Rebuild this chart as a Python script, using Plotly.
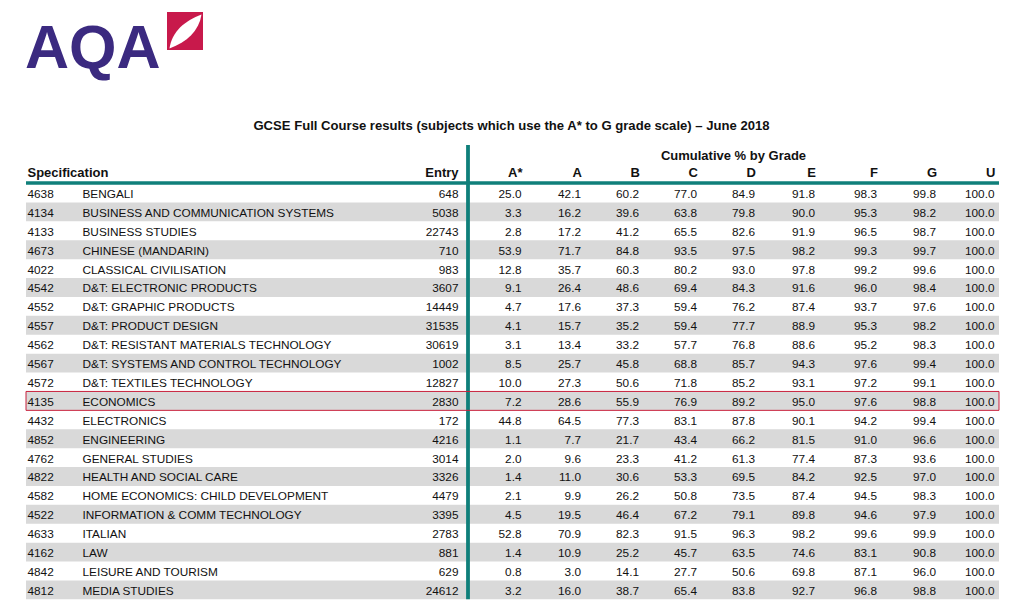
import plotly.graph_objects as go

# ---------------- data ----------------
codes = ["4638", "4134", "4133", "4673", "4022", "4542", "4552", "4557", "4562", "4567", "4572",
         "4135", "4432", "4852", "4762", "4822", "4582", "4522", "4633", "4162", "4842", "4812"]
subjects = ["BENGALI", "BUSINESS AND COMMUNICATION SYSTEMS", "BUSINESS STUDIES", "CHINESE (MANDARIN)",
            "CLASSICAL CIVILISATION", "D&T: ELECTRONIC PRODUCTS", "D&T: GRAPHIC PRODUCTS",
            "D&T: PRODUCT DESIGN", "D&T: RESISTANT MATERIALS TECHNOLOGY",
            "D&T: SYSTEMS AND CONTROL TECHNOLOGY", "D&T: TEXTILES TECHNOLOGY", "ECONOMICS",
            "ELECTRONICS", "ENGINEERING", "GENERAL STUDIES", "HEALTH AND SOCIAL CARE",
            "HOME ECONOMICS: CHILD DEVELOPMENT", "INFORMATION & COMM TECHNOLOGY", "ITALIAN", "LAW",
            "LEISURE AND TOURISM", "MEDIA STUDIES"]
entries = [648, 5038, 22743, 710, 983, 3607, 14449, 31535, 30619, 1002, 12827,
           2830, 172, 4216, 3014, 3326, 4479, 3395, 2783, 881, 629, 24612]
grade_labels = ["A*", "A", "B", "C", "D", "E", "F", "G", "U"]
a_star = [25.0, 3.3, 2.8, 53.9, 12.8, 9.1, 4.7, 4.1, 3.1, 8.5, 10.0, 7.2, 44.8, 1.1, 2.0, 1.4, 2.1, 4.5, 52.8, 1.4, 0.8, 3.2]
grade_a = [42.1, 16.2, 17.2, 71.7, 35.7, 26.4, 17.6, 15.7, 13.4, 25.7, 27.3, 28.6, 64.5, 7.7, 9.6, 11.0, 9.9, 19.5, 70.9, 10.9, 3.0, 16.0]
grade_b = [60.2, 39.6, 41.2, 84.8, 60.3, 48.6, 37.3, 35.2, 33.2, 45.8, 50.6, 55.9, 77.3, 21.7, 23.3, 30.6, 26.2, 46.4, 82.3, 25.2, 14.1, 38.7]
grade_c = [77.0, 63.8, 65.5, 93.5, 80.2, 69.4, 59.4, 59.4, 57.7, 68.8, 71.8, 76.9, 83.1, 43.4, 41.2, 53.3, 50.8, 67.2, 91.5, 45.7, 27.7, 65.4]
grade_d = [84.9, 79.8, 82.6, 97.5, 93.0, 84.3, 76.2, 77.7, 76.8, 85.7, 85.2, 89.2, 87.8, 66.2, 61.3, 69.5, 73.5, 79.1, 96.3, 63.5, 50.6, 83.8]
grade_e = [91.8, 90.0, 91.9, 98.2, 97.8, 91.6, 87.4, 88.9, 88.6, 94.3, 93.1, 95.0, 90.1, 81.5, 77.4, 84.2, 87.4, 89.8, 98.2, 74.6, 69.8, 92.7]
grade_f = [98.3, 95.3, 96.5, 99.3, 99.2, 96.0, 93.7, 95.3, 95.2, 97.6, 97.2, 97.6, 94.2, 91.0, 87.3, 92.5, 94.5, 94.6, 99.6, 83.1, 87.1, 96.8]
grade_g = [99.8, 98.2, 98.7, 99.7, 99.6, 98.4, 97.6, 98.2, 98.3, 99.4, 99.1, 98.8, 99.4, 96.6, 93.6, 97.0, 98.3, 97.9, 99.9, 90.8, 96.0, 98.8]
grade_u = [100.0, 100.0, 100.0, 100.0, 100.0, 100.0, 100.0, 100.0, 100.0, 100.0, 100.0,
           100.0, 100.0, 100.0, 100.0, 100.0, 100.0, 100.0, 100.0, 100.0, 100.0, 100.0]
highlight_subject = "ECONOMICS"

title_text = "GCSE Full Course results (subjects which use the A* to G grade scale) \u2013 June 2018"
group_header = "Cumulative % by Grade"

# ---------------- layout constants ----------------
W, H = 1009, 605
ROW0_PX, ROW_PX = 193.0, 18.9          # pixel centre of first row, row pitch
TEXT_DROP = 2.0 / ROW_PX               # text sits slightly below stripe centre


def row_of(px):
    return (px - ROW0_PX) / ROW_PX


def paper_y(px):
    return 1 - px / H


FONT = "Liberation Sans, Arial, sans-serif"
TXT = "#111111"
TEAL = "#0f7f7a"
GREY = "#d9d9d9"
RED = "#c8203c"
PURPLE = "#3b2a80"

TABLE_L, TABLE_R = 26, 999
X_CODE, X_NAME, X_ENTRY = 27.5, 82.5, 458.5
X_GRADES = [521.5, 581, 639, 697, 755, 815, 877, 936, 994.5]
X_DIVIDER = 468

n = len(subjects)
rows = list(range(n))
text_rows = [r + TEXT_DROP for r in rows]
grade_cols = [a_star, grade_a, grade_b, grade_c, grade_d, grade_e, grade_f, grade_g, grade_u]

fig = go.Figure()

# striped rows (every second row grey)
stripe_rows = [i for i in rows if i % 2 == 1]
fig.add_trace(go.Bar(
    y=stripe_rows, x=[TABLE_R - TABLE_L] * len(stripe_rows), base=TABLE_L,
    orientation="h", width=1.0, marker=dict(color=GREY, line=dict(width=0)),
    hoverinfo="skip", showlegend=False))

cell_font = dict(family=FONT, size=11.8, color=TXT)
# code column
fig.add_trace(go.Scatter(x=[X_CODE] * n, y=text_rows, text=codes, mode="text",
                         textposition="middle right", textfont=cell_font,
                         hoverinfo="skip", showlegend=False))
# subject column
fig.add_trace(go.Scatter(x=[X_NAME] * n, y=text_rows, text=subjects, mode="text",
                         textposition="middle right", textfont=cell_font,
                         hoverinfo="skip", showlegend=False))
# entry column
fig.add_trace(go.Scatter(x=[X_ENTRY] * n, y=text_rows, text=[str(v) for v in entries], mode="text",
                         textposition="middle left", textfont=cell_font,
                         hoverinfo="skip", showlegend=False))
# grade columns
for xg, col in zip(X_GRADES, grade_cols):
    fig.add_trace(go.Scatter(x=[xg] * n, y=text_rows, text=[f"{v:.1f}" for v in col], mode="text",
                             textposition="middle left", textfont=cell_font,
                             hoverinfo="skip", showlegend=False))

# headers
head_font = dict(family=FONT, size=13, color=TXT)
y_head = row_of(174)
fig.add_trace(go.Scatter(x=[X_CODE], y=[y_head], text=["<b>Specification</b>"], mode="text",
                         textposition="middle right", textfont=head_font,
                         hoverinfo="skip", showlegend=False))
fig.add_trace(go.Scatter(x=[X_ENTRY] + [x + 1 for x in X_GRADES], y=[y_head] * (1 + len(grade_labels)),
                         text=[f"<b>{t}</b>" for t in ["Entry"] + grade_labels], mode="text",
                         textposition="middle left", textfont=head_font,
                         hoverinfo="skip", showlegend=False))
fig.add_trace(go.Scatter(x=[733.5], y=[row_of(157)],
                         text=[f"<b>{group_header}</b>"], mode="text",
                         textposition="middle center", textfont=head_font,
                         hoverinfo="skip", showlegend=False))
fig.add_trace(go.Scatter(x=[511.5], y=[row_of(127)], text=[f"<b>{title_text}</b>"], mode="text",
                         textposition="middle center", textfont=dict(family=FONT, size=13.1, color=TXT),
                         hoverinfo="skip", showlegend=False))

shapes = []
# teal header rule and divider
shapes.append(dict(type="line", xref="x", yref="y", x0=TABLE_L, x1=TABLE_R,
                   y0=row_of(183), y1=row_of(183), line=dict(color=TEAL, width=3.5)))
shapes.append(dict(type="line", xref="x", yref="y", x0=X_DIVIDER, x1=X_DIVIDER,
                   y0=row_of(145), y1=n - 0.5, line=dict(color=TEAL, width=3.8)))
# highlight box
hi = subjects.index(highlight_subject)
shapes.append(dict(type="rect", xref="x", yref="y", x0=TABLE_L, x1=TABLE_R,
                   y0=hi - 0.5, y1=hi + 0.5, line=dict(color=RED, width=1), fillcolor="rgba(0,0,0,0)"))

# logo: red tile with white swoosh
shapes.append(dict(type="rect", xref="x", yref="paper", x0=167, x1=203,
                   y0=paper_y(50), y1=paper_y(12), line=dict(width=0), fillcolor="#c8194b"))


def P(x, y):
    return f"{x},{paper_y(y):.5f}"


swoosh = (f"M {P(169.5, 48.5)} C {P(172, 31)} {P(185, 21)} {P(201.5, 14.5)} "
          f"C {P(199, 31)} {P(187, 42)} {P(169.5, 48.5)} Z")
shapes.append(dict(type="path", xref="x", yref="paper", path=swoosh,
                   line=dict(width=0), fillcolor="white"))

fig.add_annotation(x=23, y=paper_y(47), xref="x", yref="paper", text="<b>AQA</b>",
                   showarrow=False, xanchor="left", yanchor="middle",
                   font=dict(family="Liberation Sans, Arial, sans-serif", size=61, color=PURPLE))

fig.update_layout(
    width=W, height=H, autosize=False,
    margin=dict(l=0, r=0, t=0, b=0),
    paper_bgcolor="white", plot_bgcolor="white",
    shapes=shapes, showlegend=False, barmode="overlay",
    xaxis=dict(range=[0, W], visible=False, fixedrange=True),
    yaxis=dict(range=[row_of(H), row_of(0)], visible=False, fixedrange=True),
)

fig.write_html("out.html", config={"displayModeBar": False},
               post_script="document.body.style.margin='0';")
